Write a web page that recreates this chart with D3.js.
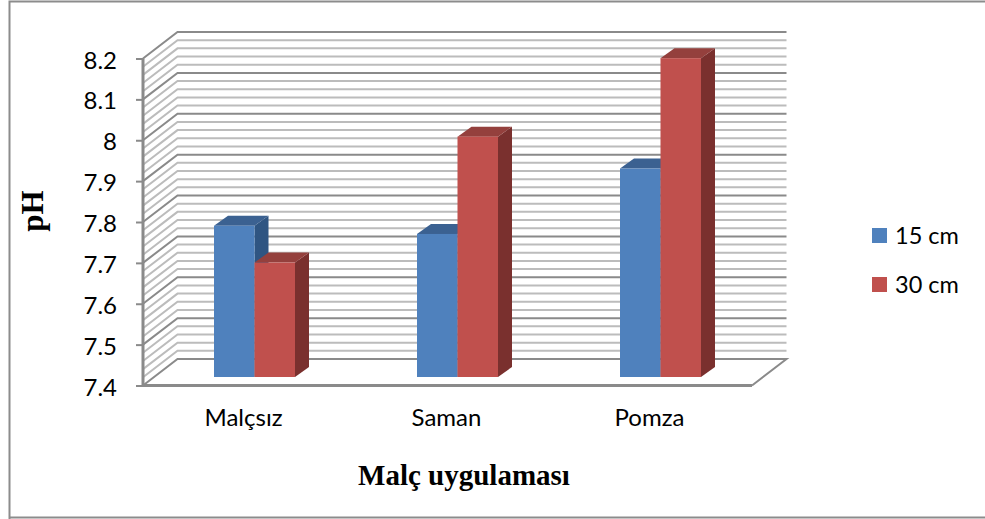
<!DOCTYPE html>
<html><head><meta charset="utf-8">
<script src="https://cdn.jsdelivr.net/npm/d3@7"></script>
<style>html,body{margin:0;padding:0;background:#fff}svg{display:block}</style>
</head><body><svg id="c" width="985" height="519"></svg>
<script>
const categories = ["Malçsız","Saman","Pomza"];
const seriesNames = ["15 cm","30 cm"];
const values15 = [7.77,7.75,7.91];
const values30 = [7.68,7.988,8.18];
const yMajorTicks = [7.4,7.5,7.6,7.7,7.8,7.9,8,8.1,8.2];
const yGridStep = 0.02;
const colors = ["#4F81BD","#C0504D"];
const topColors = ["#3B6191","#94403D"];
const sideColors = ["#2F5582","#7A302E"];

const svg = d3.select("#c");
const font = "Lato, Carlito, sans-serif", serif = "'Liberation Serif', serif";
const W = 985, H = 519;
svg.append("path").attr("d",`M9.5,${H}V1.5H${W}M9.5,517.5H${W}`).attr("fill","none").attr("stroke","#8c8c8c").attr("stroke-width",2);

const y = d3.scaleLinear().domain([7.4,8.2]).range([385.5,58.5]);
const x = d3.scaleBand().domain(categories).range([143,752]);
const depth = {dx:34.5,dy:-26.5};
const bar = {dx:14,dy:-10,ox:0,oy:-8.5};

// gridlines on side and back walls
const n = Math.round((8.2-7.4)/yGridStep);
const gridVals = d3.range(0,n+1).map(i=>7.4+i*yGridStep);
const g = svg.append("g").attr("fill","none");
gridVals.forEach((v,i)=>{
  const major = i%5===0;
  if(i===0) return;
  const yy=y(v);
  g.append("path").attr("d",`M${x.range()[0]},${yy}L${x.range()[0]+depth.dx},${yy+depth.dy}H${x.range()[1]+depth.dx}`)
   .attr("stroke",major?"#8a8a8a":"#bcbcbc").attr("stroke-width",2);
});
// floor
g.append("path").attr("d",`M${x.range()[0]},${y(7.4)}L${x.range()[0]+depth.dx},${y(7.4)+depth.dy}H${x.range()[1]+depth.dx}L${x.range()[1]},${y(7.4)}`)
 .attr("stroke","#8a8a8a").attr("stroke-width",2).attr("stroke-linejoin","miter");
// front axes
g.append("path").attr("d",`M${x.range()[0]},${y(8.2)}V${y(7.4)}H${x.range()[1]}`).attr("stroke","#8a8a8a").attr("stroke-width",3);

const yAxis = d3.axisLeft(y).tickValues(yMajorTicks).tickSize(7).tickPadding(19).tickFormat(d=>String(+d.toFixed(1)));
const ya = svg.append("g").attr("transform",`translate(${x.range()[0]},0)`).call(yAxis);
ya.select(".domain").remove();
ya.selectAll("line").attr("stroke","#8a8a8a").attr("stroke-width",2);
ya.selectAll("text").attr("font-family",font).attr("font-size",24).attr("fill","#000").attr("dy","0.4em");

const xAxis = d3.axisBottom(x).tickSize(0).tickPadding(23);
const xa = svg.append("g").attr("transform",`translate(0,${y(7.4)})`).call(xAxis);
xa.select(".domain").remove();
xa.selectAll("text").attr("font-family",font).attr("font-size",24).attr("fill","#000");
xa.selectAll("g.tick").attr("transform",function(d){return `translate(${x(d)+x.bandwidth()/2-1},0)`;});

// bars
const inner = d3.scaleBand().domain(seriesNames).range([0,81]);
const barOff = 71;
const h = v=>y(v)+bar.oy, base=y(7.4)+bar.oy;
seriesNames.forEach((s,si)=>{
  const vals = si===0?values15:values30;
  const bg = svg.append("g");
  categories.forEach((c,i)=>{
    const x0 = x(c)+barOff+inner(s), w=inner.bandwidth(), t=h(vals[i]);
    bg.append("path").attr("fill",sideColors[si]).attr("d",`M${x0+w},${t}l${bar.dx},${bar.dy}V${base+bar.dy}l${-bar.dx},${-bar.dy}Z`);
    bg.append("path").attr("fill",topColors[si]).attr("d",`M${x0},${t}l${bar.dx},${bar.dy}h${w}l${-bar.dx},${-bar.dy}Z`);
    bg.append("rect").attr("fill",colors[si]).attr("x",x0).attr("y",t).attr("width",w).attr("height",base-t);
  });
});

// legend
const leg = svg.append("g");
seriesNames.forEach((s,i)=>{
  const yy = 235.5+i*49;
  leg.append("rect").attr("x",872).attr("y",yy-7.5).attr("width",15).attr("height",15).attr("fill",colors[i]);
  leg.append("text").attr("x",895).attr("y",yy+8).attr("font-family",font).attr("font-size",23.5).attr("fill","#000").text(s);
});

// titles
svg.append("text").attr("transform","translate(43,211) rotate(-90)").attr("text-anchor","middle").attr("font-family",serif).attr("font-weight","bold").attr("font-size",31).text("pH");
svg.append("text").attr("x",464).attr("y",485).attr("text-anchor","middle").attr("font-family",serif).attr("font-weight","bold").attr("font-size",29).text("Malç uygulaması");
</script></body></html>
